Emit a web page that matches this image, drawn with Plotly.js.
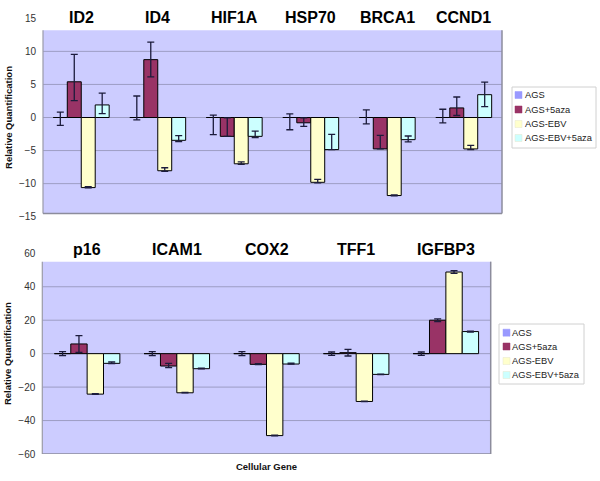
<!DOCTYPE html>
<html>
<head>
<meta charset="utf-8">
<script src="https://cdn.plot.ly/plotly-3.0.1.min.js"></script>
<style>html,body{margin:0;padding:0;background:#fff;}#chart{width:600px;height:481px;}</style>
</head>
<body>
<div id="chart"></div>
<script>
// ---------- data ----------
var seriesNames = ['AGS', 'AGS+5aza', 'AGS-EBV', 'AGS-EBV+5aza'];

var topGenes = ['ID2', 'ID4', 'HIF1A', 'HSP70', 'BRCA1', 'CCND1'];
var topAGS = [0, 0, 0, 0, 0, 0];
var topAGSErrPlus = [0.8, 3.25, 0.35, 0.55, 1.15, 1.25];
var topAGSErrMinus = [1.2, 0.35, 2.6, 1.85, 0.95, 0.8];
var topAza = [5.4, 8.75, -2.85, -0.8, -4.75, 1.45];
var topAzaErrPlus = [4.15, 2.65, 2.8, 0.75, 2.05, 1.65];
var topAzaErrMinus = [2.85, 2.6, 0, 0.55, 0, 1.15];
var topEBV = [-10.6, -8.05, -7.0, -9.8, -11.8, -4.75];
var topEBVErrPlus = [0.15, 0.45, 0.3, 0.45, 0.1, 0.55];
var topEBVErrMinus = [0.05, 0.1, 0.1, 0.1, 0.05, 0.1];
var topEBVAza = [1.9, -3.45, -2.85, -4.85, -3.35, 3.45];
var topEBVAzaErrPlus = [1.8, 0.7, 0.8, 2.3, 0.55, 1.9];
var topEBVAzaErrMinus = [1.3, 0.2, 0.2, 0, 0.35, 1.8];

var botGenes = ['p16', 'ICAM1', 'COX2', 'TFF1', 'IGFBP3'];
var botAGS = [0, 0, 0, 0, 0];
var botAGSErrPlus = [1.2, 1.2, 1.2, 1.0, 1.0];
var botAGSErrMinus = [1.2, 1.2, 1.2, 1.0, 1.0];
var botAza = [5.8, -7.4, -6.4, 0.6, 20];
var botAzaErrPlus = [5.0, 1.6, 0.4, 2.0, 0.8];
var botAzaErrMinus = [5.0, 1.0, 0.2, 2.0, 0.8];
var botEBV = [-24.2, -23.4, -49, -28.6, 48.8];
var botEBVErrPlus = [0.3, 0.3, 0.3, 0.2, 0.8];
var botEBVErrMinus = [0.1, 0.1, 0.1, 0.1, 0.8];
var botEBVAza = [-5.8, -9.0, -6.2, -12.4, 13.2];
var botEBVAzaErrPlus = [0.8, 0.4, 0.5, 0.2, 0.3];
var botEBVAzaErrMinus = [0.2, 0.1, 0.1, 0.1, 0.3];

var topTicks = [-15, -10, -5, 0, 5, 10, 15];
var topGrid = [-10, -5, 0, 5, 10];
var botTicks = [-60, -40, -20, 0, 20, 40, 60];
var botGrid = [-40, -20, 0, 20, 40];

// ---------- styles ----------
var colors = ['#9999ff', '#993366', '#ffffcc', '#ccffff'];
var errColor = '#1c1c3c';
var FONT = 'Liberation Sans, Arial, sans-serif';
var W = 600, H = 481;

function mk(name, i, x, y, ep, em, xa, ya) {
  return {
    type: 'bar', name: name, x: x, y: y, xaxis: xa, yaxis: ya, showlegend: false,
    marker: {color: colors[i], line: {color: '#000000', width: 1}},
    error_y: {type: 'data', symmetric: false, array: ep, arrayminus: em,
              color: errColor, thickness: 1.3, width: 3.5},
    hoverinfo: 'x+y+name'
  };
}

var data = [
  mk(seriesNames[0], 0, topGenes, topAGS, topAGSErrPlus, topAGSErrMinus, 'x', 'y'),
  mk(seriesNames[1], 1, topGenes, topAza, topAzaErrPlus, topAzaErrMinus, 'x', 'y'),
  mk(seriesNames[2], 2, topGenes, topEBV, topEBVErrPlus, topEBVErrMinus, 'x', 'y'),
  mk(seriesNames[3], 3, topGenes, topEBVAza, topEBVAzaErrPlus, topEBVAzaErrMinus, 'x', 'y'),
  mk(seriesNames[0], 0, botGenes, botAGS, botAGSErrPlus, botAGSErrMinus, 'x2', 'y2'),
  mk(seriesNames[1], 1, botGenes, botAza, botAzaErrPlus, botAzaErrMinus, 'x2', 'y2'),
  mk(seriesNames[2], 2, botGenes, botEBV, botEBVErrPlus, botEBVErrMinus, 'x2', 'y2'),
  mk(seriesNames[3], 3, botGenes, botEBVAza, botEBVAzaErrPlus, botEBVAzaErrMinus, 'x2', 'y2')
];

// ---------- decorations ----------
var shapes = [];
var annotations = [];
function panel(xa, ya, y0, y1, grid) {
  shapes.push({type: 'rect', layer: 'below', xref: xa + ' domain', yref: ya,
               x0: 0, x1: 1, y0: y0, y1: y1, fillcolor: '#ccccff', line: {width: 0}});
  grid.forEach(function (g) {
    shapes.push({type: 'line', layer: 'below', xref: xa + ' domain', yref: ya,
                 x0: 0, x1: 1, y0: g, y1: g, line: {color: '#9d9dc4', width: 1}});
  });
  shapes.push({type: 'line', layer: 'below', xref: xa + ' domain', yref: ya,
               x0: 0, x1: 0, y0: y0, y1: y1, line: {color: '#9a9aa8', width: 1.2}});
  shapes.push({type: 'line', layer: 'below', xref: xa + ' domain', yref: ya,
               x0: 1, x1: 1, y0: y0, y1: y1, line: {color: '#8c8c9c', width: 1.5}});
  shapes.push({type: 'line', layer: 'below', xref: xa + ' domain', yref: ya,
               x0: 0, x1: 1, y0: y0, y1: y0, line: {color: '#8c8c9c', width: 1.5}});
}
panel('x', 'y', -14.5, 13.2, topGrid);
panel('x2', 'y2', -60, 55, botGrid);

// legend box drawn in paper pixels: box [x0,x1,y0,y1], swatch left, text left, row centres
function legendBox(bx0, bx1, by0, by1, sx, tx, rows) {
  shapes.push({type: 'rect', xref: 'paper', yref: 'paper',
               x0: bx0 / W, x1: bx1 / W, y0: 1 - by1 / H, y1: 1 - by0 / H,
               fillcolor: '#ffffff', line: {color: '#d0d0d0', width: 1}});
  seriesNames.forEach(function (n, i) {
    var cy = rows[i];
    shapes.push({type: 'rect', xref: 'paper', yref: 'paper',
                 x0: sx / W, x1: (sx + 7) / W, y0: 1 - (cy + 3.5) / H, y1: 1 - (cy - 3.5) / H,
                 fillcolor: colors[i], line: {color: i >= 2 ? '#e6e6cc' : colors[i], width: 0.5}});
    annotations.push({x: tx / W, y: 1 - cy / H, xref: 'paper', yref: 'paper',
                      xanchor: 'left', yanchor: 'middle', showarrow: false, text: n,
                      font: {family: FONT, size: 9.3, color: '#222222'}});
  });
}
legendBox(512, 596, 87, 148, 515, 522.5, [95, 109.5, 124, 138]);
legendBox(499, 584, 324, 384, 503, 510, [332.7, 346.5, 361, 375]);

topGenes.forEach(function (g) {
  annotations.push({x: g, xref: 'x', y: 1 - 17.5 / H, yref: 'paper', yanchor: 'middle',
    text: g, showarrow: false, font: {family: FONT, size: 16, weight: 700, color: '#000'}});
});
botGenes.forEach(function (g) {
  annotations.push({x: g, xref: 'x2', y: 1 - 249 / H, yref: 'paper', yanchor: 'middle',
    text: g, showarrow: false, font: {family: FONT, size: 16, weight: 700, color: '#000'}});
});

var tickFont = {family: FONT, size: 10, color: '#333333'};
var titleFont = {family: FONT, size: 9.5, weight: 700, color: '#111111'};

var layout = {
  width: W, height: H,
  margin: {l: 0, r: 0, t: 0, b: 0},
  paper_bgcolor: '#ffffff', plot_bgcolor: 'rgba(0,0,0,0)',
  barmode: 'group', bargap: 0.27, bargroupgap: 0,
  showlegend: false,
  font: {family: FONT},
  xaxis: {domain: [43 / W, 502 / W], anchor: 'y', showticklabels: false, showgrid: false,
          zeroline: false, showline: false, ticks: ''},
  yaxis: {domain: [1 - 216.7 / H, 1 - 18.3 / H], anchor: 'x', range: [-15, 15],
          tickvals: topTicks, showgrid: false, zeroline: false, showline: false, ticks: '',
          ticklabelstandoff: 6, tickfont: tickFont,
          title: {text: 'Relative Quantification', font: titleFont, standoff: 4}},
  xaxis2: {domain: [42.3 / W, 490.7 / W], anchor: 'y2', showticklabels: false, showgrid: false,
           zeroline: false, showline: false, ticks: '',
           title: {text: 'Cellular Gene', font: titleFont, standoff: 9}},
  yaxis2: {domain: [1 - 454 / H, 1 - 253.3 / H], anchor: 'x2', range: [-60, 60],
           tickvals: botTicks, showgrid: false, zeroline: false, showline: false, ticks: '',
           ticklabelstandoff: 6, tickfont: tickFont,
           title: {text: 'Relative Quantification', font: titleFont, standoff: 4}},
  shapes: shapes,
  annotations: annotations
};

Plotly.newPlot('chart', data, layout, {displayModeBar: false, staticPlot: true});
</script>
</body>
</html>
